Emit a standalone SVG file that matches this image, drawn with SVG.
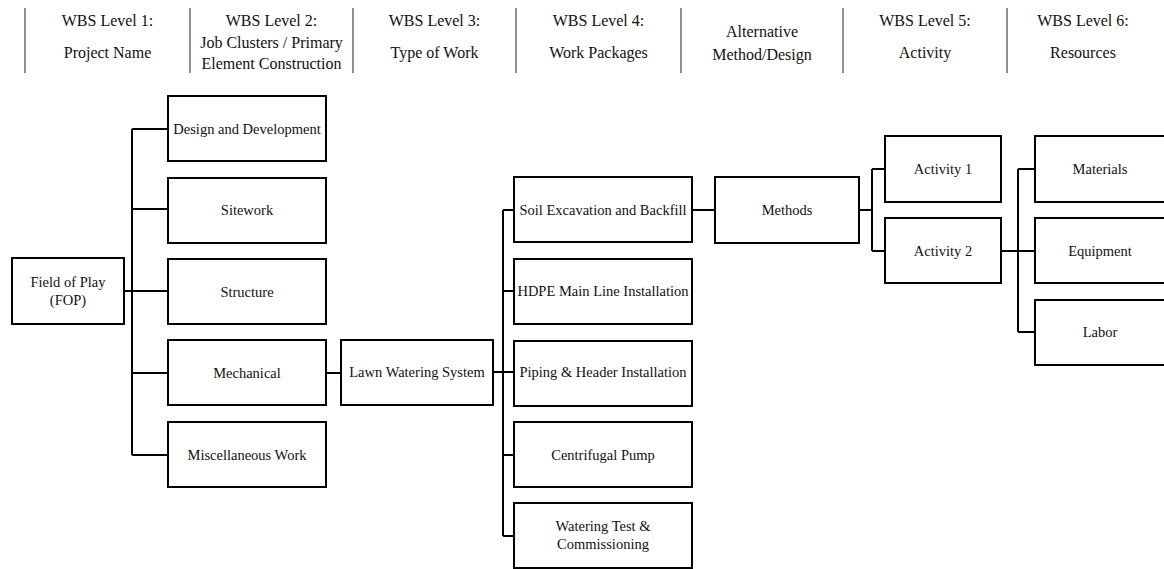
<svg xmlns="http://www.w3.org/2000/svg" width="1164" height="569" viewBox="0 0 1164 569">
<style>
.hd{font-family:'Liberation Serif','Times New Roman',serif;font-size:16px;fill:#111;text-anchor:middle}
.sep{stroke:#555;stroke-width:1.3}
.box{fill:#fff;stroke:#000;stroke-width:2}
.lb{font-family:'Liberation Serif','Times New Roman',serif;font-size:14.5px;fill:#111;text-anchor:middle}
.cn{fill:none;stroke:#000;stroke-width:2}
</style>
<rect width="1164" height="569" fill="#fff"/>
<g id="header">
<line class="sep" x1="25" y1="8" x2="25" y2="73"/>
<line class="sep" x1="190" y1="8" x2="190" y2="73"/>
<line class="sep" x1="353" y1="8" x2="353" y2="73"/>
<line class="sep" x1="516" y1="8" x2="516" y2="73"/>
<line class="sep" x1="681" y1="8" x2="681" y2="73"/>
<line class="sep" x1="843" y1="8" x2="843" y2="73"/>
<line class="sep" x1="1007" y1="8" x2="1007" y2="73"/>
<text class="hd" x="107.5" y="26">WBS Level 1:</text>
<text class="hd" x="107.5" y="58">Project Name</text>
<text class="hd" x="271.5" y="26">WBS Level 2:</text>
<text class="hd" x="271.5" y="48">Job Clusters / Primary</text>
<text class="hd" x="271.5" y="69">Element Construction</text>
<text class="hd" x="434.5" y="26">WBS Level 3:</text>
<text class="hd" x="434.5" y="58">Type of Work</text>
<text class="hd" x="598.5" y="26">WBS Level 4:</text>
<text class="hd" x="598.5" y="58">Work Packages</text>
<text class="hd" x="762" y="37">Alternative</text>
<text class="hd" x="762" y="60">Method/Design</text>
<text class="hd" x="925" y="26">WBS Level 5:</text>
<text class="hd" x="925" y="58">Activity</text>
<text class="hd" x="1083" y="26">WBS Level 6:</text>
<text class="hd" x="1083" y="58">Resources</text>
</g>
<g id="connectors">
<path class="cn" d="M124,291 H132 M132,129 V455 M132,129 H168 M132,209 H168 M132,291 H168 M132,373 H168 M132,455 H168"/>
<path class="cn" d="M326,373 H341"/>
<path class="cn" d="M493,372 H514 M503,210 V536 M503,210 H514 M503,291 H514 M503,455 H514 M503,536 H514"/>
<path class="cn" d="M692,210 H715"/>
<path class="cn" d="M859,210 H872 M872,169 V251 M872,169 H885 M872,251 H885"/>
<path class="cn" d="M1001,251 H1035 M1018,169 V332 M1018,169 H1035 M1018,332 H1035"/>
</g>
<g id="fop"><rect class="box" x="12" y="258" width="112" height="66"/><text class="lb" x="68" y="287">Field of Play</text><text class="lb" x="68" y="305">(FOP)</text></g>
<g id="design"><rect class="box" x="168" y="96" width="158" height="65"/><text class="lb" x="247" y="134">Design and Development</text></g>
<g id="sitework"><rect class="box" x="168" y="178" width="158" height="65"/><text class="lb" x="247" y="215">Sitework</text></g>
<g id="structure"><rect class="box" x="168" y="259" width="158" height="65"/><text class="lb" x="247" y="297">Structure</text></g>
<g id="mechanical"><rect class="box" x="168" y="340" width="158" height="65"/><text class="lb" x="247" y="378">Mechanical</text></g>
<g id="misc"><rect class="box" x="168" y="422" width="158" height="65"/><text class="lb" x="247" y="460">Miscellaneous Work</text></g>
<g id="lawn"><rect class="box" x="341" y="340" width="152" height="65"/><text class="lb" x="417" y="377">Lawn Watering System</text></g>
<g id="soil"><rect class="box" x="514" y="177" width="178" height="65"/><text class="lb" x="603" y="215">Soil Excavation and Backfill</text></g>
<g id="hdpe"><rect class="box" x="514" y="259" width="178" height="65"/><text class="lb" x="603" y="296">HDPE Main Line Installation</text></g>
<g id="piping"><rect class="box" x="514" y="341" width="178" height="65"/><text class="lb" x="603" y="377">Piping &amp; Header Installation</text></g>
<g id="pump"><rect class="box" x="514" y="422" width="178" height="65"/><text class="lb" x="603" y="460">Centrifugal Pump</text></g>
<g id="test"><rect class="box" x="514" y="503" width="178" height="65"/><text class="lb" x="603" y="531">Watering Test &amp;</text><text class="lb" x="603" y="549">Commissioning</text></g>
<g id="methods"><rect class="box" x="715" y="177" width="144" height="66"/><text class="lb" x="787" y="215">Methods</text></g>
<g id="act1"><rect class="box" x="885" y="136" width="116" height="66"/><text class="lb" x="943" y="174">Activity 1</text></g>
<g id="act2"><rect class="box" x="885" y="218" width="116" height="65"/><text class="lb" x="943" y="256">Activity 2</text></g>
<g id="materials"><rect class="box" x="1035" y="136" width="132" height="66"/><text class="lb" x="1100" y="174">Materials</text></g>
<g id="equipment"><rect class="box" x="1035" y="218" width="132" height="65"/><text class="lb" x="1100" y="256">Equipment</text></g>
<g id="labor"><rect class="box" x="1035" y="300" width="132" height="65"/><text class="lb" x="1100" y="337">Labor</text></g>
</svg>
